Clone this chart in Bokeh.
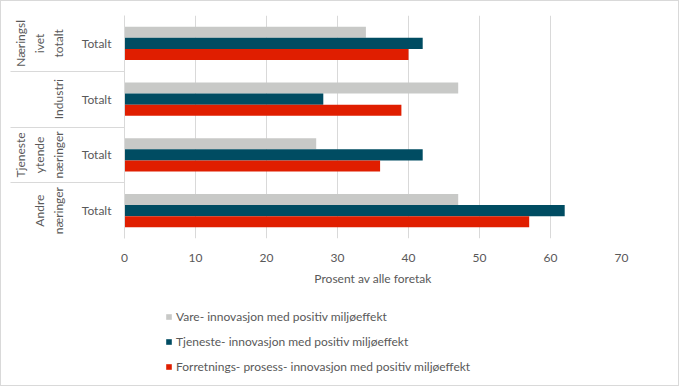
from bokeh.plotting import figure
from bokeh.layouts import column
from bokeh.models import FactorRange, Legend, LegendItem, ColumnDataSource, CategoricalAxis, CategoricalScale, Range1d
from bokeh.transform import dodge
from bokeh.embed import file_html
from bokeh.resources import INLINE

group_labels = ["Næringsl\nivet\ntotalt", "Industri", "Tjeneste\nytende\nnæringer", "Andre\nnæringer"]
sub_label = "Totalt"
series_names = [
    "Vare- innovasjon med positiv miljøeffekt",
    "Tjeneste- innovasjon med positiv miljøeffekt",
    "Forretnings- prosess- innovasjon med positiv miljøeffekt",
]
vare = [34, 47, 27, 47]
tjeneste = [42, 28, 42, 62]
forretning = [40, 39, 36, 57]
x_ticks = [0, 10, 20, 30, 40, 50, 60, 70]
colors = ["#c8c9c7", "#004c62", "#e01e00"]

FONT = "Lato"
TXT = "#595959"
GRID = "#d9d9d9"

factors = [(g, sub_label) for g in group_labels]
n_groups = len(factors)
src = ColumnDataSource(dict(y=factors, vare=vare, tjeneste=tjeneste, forretning=forretning))

p = figure(
    y_range=FactorRange(factors=list(reversed(factors)), group_padding=0, factor_padding=0, range_padding=0),
    x_range=(0, 70),
    frame_width=497, frame_height=223,
    min_border_left=123, min_border_right=57, min_border_top=14, min_border_bottom=55,
    output_backend="svg", toolbar_location=None,
)
p.outline_line_color = None

offsets = [0.2, 0.0, -0.2]
cols = ["vare", "tjeneste", "forretning"]
for off, c, col in zip(offsets, cols, colors):
    p.hbar(y=dodge("y", off, range=p.y_range), right=c, left=0, height=0.2,
           source=src, color=col, line_color=None)

p.xaxis.ticker = x_ticks
p.xaxis.axis_line_color = None
p.xaxis.major_tick_line_color = None
p.xaxis.minor_tick_line_color = None
p.xaxis.major_tick_out = 0
p.xaxis.major_label_standoff = 15
p.xaxis.axis_label = "Prosent av alle foretak"
p.xaxis.axis_label_standoff = 6
p.xaxis.axis_label_text_font_style = "normal"

ya = p.yaxis[0]
ya.axis_line_color = GRID
ya.major_tick_line_color = None
ya.major_tick_out = 0
ya.major_label_standoff = 13
ya.separator_line_color = None
ya.group_label_orientation = "parallel"
ya.group_text_line_height = 1.25

for ax in (p.xaxis[0], ya):
    ax.major_label_text_font = FONT
    ax.major_label_text_font_size = "12px"
    ax.major_label_text_color = TXT
    ax.axis_label_text_font = FONT
    ax.axis_label_text_font_size = "12px"
    ax.axis_label_text_color = TXT
ya.group_text_font = FONT
ya.group_text_font_size = "12px"
ya.group_text_color = TXT
ya.group_text_font_style = "normal"

# boundary lines of the category box: an extra categorical range whose
# factor centres fall on the group edges
edge_factors = ["e%d" % i for i in range(n_groups + 1)]
p.extra_y_ranges = {"box": FactorRange(factors=edge_factors, range_padding=-0.5,
                                       range_padding_units="absolute")}
p.extra_y_scales = {"box": CategoricalScale()}
box_axis = CategoricalAxis(y_range_name="box")
box_axis.axis_line_color = None
box_axis.major_tick_out = 0
box_axis.major_tick_in = 114
box_axis.major_tick_line_color = GRID
box_axis.major_label_text_font_size = "0px"
box_axis.major_label_standoff = 0
p.add_layout(box_axis, "left")

p.xgrid.grid_line_color = GRID
p.ygrid.grid_line_color = None

# legend panel below the chart (its series renderers have zero height and lie outside its view)
lg = figure(width=677, height=92, x_axis_type=None, y_axis_type=None,
            y_range=FactorRange(factors=list(reversed(factors))), x_range=Range1d(-2, -1),
            min_border=0, output_backend="svg", toolbar_location=None)
lg.outline_line_color = None
lg.grid.visible = False
leg_renderers = [
    lg.hbar(y=dodge("y", off, range=lg.y_range), right=c, left=0, height=0,
            source=src, color=col, line_color=None)
    for off, c, col in zip(offsets, cols, colors)
]

legend = Legend(
    items=[LegendItem(label=n, renderers=[r]) for n, r in zip(series_names, leg_renderers)],
    location=(41, 10), orientation="vertical",
    glyph_width=7, glyph_height=7, label_height=18, spacing=7,
    label_text_font=FONT, label_text_font_size="12px", label_text_color=TXT,
    label_standoff=4, padding=0, margin=0,
    border_line_color=None, background_fill_alpha=0,
)
lg.add_layout(legend)

layout = column(p, lg, spacing=0, styles={"border": "1px solid #d9d9d9"})

open("out.html", "w").write(file_html(layout, INLINE))
